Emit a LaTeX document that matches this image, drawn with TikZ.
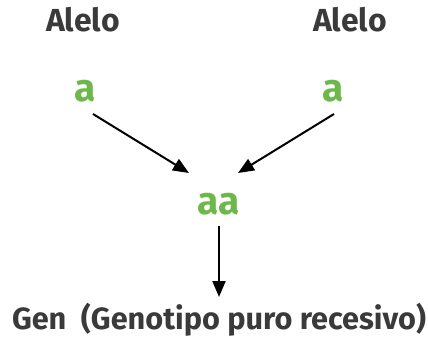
\documentclass[tikz,border=0pt]{standalone}
\usepackage{fontspec}
\setmainfont{Fira Sans}
\usetikzlibrary{arrows.meta}
\definecolor{txtgray}{HTML}{3A3A3A}
\definecolor{allgreen}{HTML}{6DB84A}
\begin{document}
\begin{tikzpicture}[x=1bp,y=-1bp,
  title/.style={font=\bfseries\fontsize{32}{34}\selectfont, text=txtgray, inner sep=0pt},
  footer/.style={font=\bfseries\fontsize{30.8}{33}\selectfont, text=txtgray, inner sep=0pt},
  allele/.style={font=\bfseries\fontsize{39}{42}\selectfont, text=allgreen, inner sep=0pt},
  conn/.style={draw=black, line width=2bp, -{Triangle[length=16bp,width=13bp]}}]
\useasboundingbox (0,0) rectangle (428,338);
\node[title] (t1) at (83,20) {Alelo};
\node[title] (t2) at (350,20) {Alelo};
\node[allele] (a1) at (85,91) {a};
\node[allele] (a2) at (333,91) {a};
\node[allele] (aa) at (219,204) {aa};
\node[footer] (gen) at (219,320) {Gen\ \ (Genotipo puro recesivo)};
\coordinate (s1) at (93,114);
\coordinate (e1) at (189,173);
\coordinate (s2) at (334,114);
\coordinate (e2) at (238,173);
\coordinate (s3) at (219,226);
\coordinate (e3) at (219,297);
\draw[conn] (s1) -- (e1);
\draw[conn] (s2) -- (e2);
\draw[conn] (s3) -- (e3);
\end{tikzpicture}
\end{document}
